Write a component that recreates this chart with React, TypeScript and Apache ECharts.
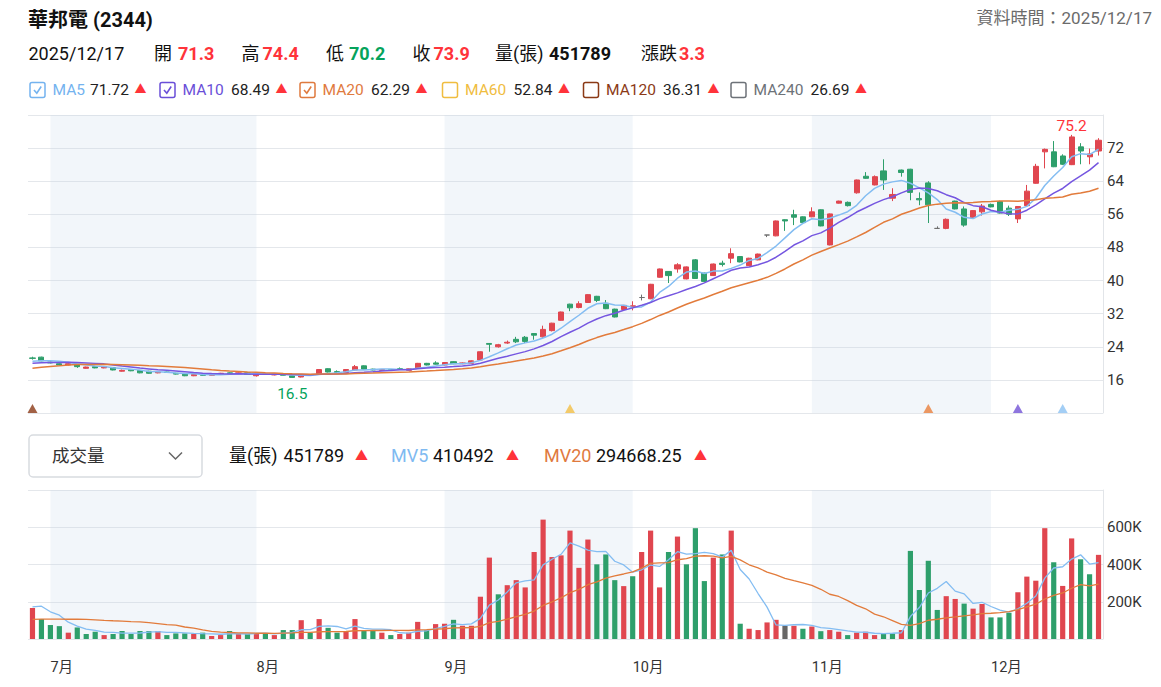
import React, { useEffect, useRef } from 'react';
import * as echarts from 'echarts';

// ---------- data ----------
const TRADE_DAYS: [number, number[]][] = [
  [6, [27, 30]],
  [7, [1, 2, 3, 4, 7, 8, 9, 10, 11, 14, 15, 16, 17, 18, 21, 22, 23, 24, 25, 28, 29, 30, 31]],
  [8, [1, 4, 5, 6, 7, 8, 11, 12, 13, 14, 15, 18, 19, 20, 21, 22, 25, 26, 27, 28, 29]],
  [9, [1, 2, 3, 4, 5, 8, 9, 10, 11, 12, 15, 16, 17, 18, 19, 22, 23, 24, 25, 26, 30]],
  [10, [1, 2, 3, 7, 8, 9, 13, 14, 15, 16, 17, 20, 21, 22, 23, 27, 28, 29, 30, 31]],
  [11, [3, 4, 5, 6, 7, 10, 11, 12, 13, 14, 17, 18, 19, 20, 21, 24, 25, 26, 27, 28]],
  [12, [1, 2, 3, 4, 5, 8, 9, 10, 11, 12, 15, 16, 17]],
];
const DATES: string[] = [];
TRADE_DAYS.forEach(([m, ds]) => ds.forEach((d) => DATES.push(`2025/${String(m).padStart(2, '0')}/${String(d).padStart(2, '0')}`)));

const OPEN = [
  21.3, 21.5, 20.3, 19.9, 19.6, 19.6, 18.8, 19.2, 18.9, 19.0,
  18.1, 18.5, 18.3, 18.1, 17.7, 17.9, 17.6, 17.4, 17.0, 17.3,
  17.1, 17.3, 17.7, 17.5, 17.7, 17.0, 17.4, 17.2, 17.4, 17.0,
  16.7, 17.3, 17.5, 18.7, 18.0, 17.8, 18.4, 19.4, 18.6, 18.3,
  18.5, 18.7, 18.3, 18.8, 20.0, 20.1, 19.6, 20.4, 19.9, 20.0,
  20.8, 24.8, 24.0, 24.9, 25.8, 26.3, 27.2, 26.4, 27.9, 30.4,
  34.3, 33.5, 34.7, 36.2, 34.5, 33.1, 33.0, 33.7, 35.9, 35.6,
  40.8, 42.2, 42.8, 40.4, 45.0, 41.8, 41.2, 44.2, 45.4, 45.8,
  43.6, 45.0, 51.0, 50.8, 54.7, 55.9, 55.4, 55.4, 57.1, 48.6,
  58.7, 58.9, 61.2, 65.2, 63.1, 66.5, 59.9, 66.7, 66.9, 59.8,
  63.6, 52.6, 52.6, 59.2, 57.3, 55.2, 56.6, 58.4, 59.1, 57.5,
  54.9, 58.1, 63.5, 71.1, 71.1, 70.1, 68.0, 72.3, 69.9, 71.3,
];
const CLOSE = [
  21.2, 20.6, 20.1, 19.6, 19.9, 19.2, 19.1, 18.9, 19.2, 18.4,
  18.3, 18.2, 17.7, 17.6, 17.9, 17.8, 17.4, 17.0, 17.3, 17.1,
  17.3, 17.6, 17.5, 17.7, 17.3, 17.4, 17.3, 17.4, 17.1, 16.6,
  17.2, 17.1, 18.5, 17.9, 17.8, 18.5, 19.2, 18.6, 18.4, 18.5,
  18.4, 18.6, 18.7, 20.0, 19.6, 19.8, 20.2, 19.9, 20.1, 20.6,
  22.8, 24.6, 24.5, 25.1, 25.2, 25.3, 26.8, 28.2, 29.7, 32.4,
  33.4, 34.4, 36.6, 35.2, 33.2, 31.2, 34.0, 33.9, 35.9, 39.1,
  42.8, 41.2, 43.8, 43.3, 40.5, 39.8, 44.0, 43.9, 46.5, 44.5,
  45.4, 46.4, 51.0, 54.4, 54.4, 55.3, 54.0, 56.6, 53.2, 56.1,
  59.2, 58.1, 64.3, 64.7, 65.1, 64.3, 60.8, 66.1, 61.3, 59.5,
  58.3, 52.6, 54.8, 57.3, 53.4, 56.9, 58.0, 57.8, 56.3, 56.0,
  57.9, 61.6, 67.6, 71.7, 67.5, 68.1, 74.7, 71.3, 70.6, 73.9,
];
const LOW = [
  20.9, 20.5, 20.0, 19.5, 19.5, 18.9, 18.7, 18.8, 18.8, 18.3,
  18.0, 18.1, 17.6, 17.5, 17.6, 17.7, 17.3, 16.9, 16.9, 17.0,
  17.0, 17.2, 17.4, 17.4, 17.2, 16.8, 17.2, 17.1, 17.0, 16.5,
  16.6, 17.0, 17.4, 17.8, 17.6, 17.7, 18.3, 18.5, 18.3, 18.2,
  18.3, 18.4, 18.2, 18.7, 19.5, 19.7, 19.5, 19.8, 19.8, 19.9,
  20.7, 22.8, 23.8, 24.7, 24.9, 24.9, 25.7, 26.2, 27.7, 30.3,
  32.6, 33.3, 34.6, 34.8, 33.1, 31.1, 32.9, 32.8, 35.2, 35.5,
  40.7, 39.4, 41.9, 40.3, 40.4, 39.7, 41.1, 43.4, 44.2, 44.4,
  43.5, 44.9, 50.5, 50.7, 52.0, 53.4, 53.9, 55.3, 53.1, 48.5,
  58.6, 57.9, 61.0, 64.6, 63.0, 61.9, 59.2, 65.1, 59.4, 58.2,
  53.9, 52.5, 52.4, 57.2, 53.0, 55.1, 55.7, 57.7, 56.2, 55.6,
  53.9, 58.0, 63.4, 67.1, 67.4, 67.9, 67.9, 68.1, 68.1, 70.2,
];
const HIGH = [
  21.6, 21.6, 20.4, 20.0, 20.0, 19.7, 19.2, 19.3, 19.3, 19.1,
  18.5, 18.6, 18.4, 18.2, 18.0, 18.0, 17.7, 17.5, 17.4, 17.4,
  17.4, 17.7, 17.8, 17.8, 17.8, 17.5, 17.5, 17.5, 17.5, 17.1,
  17.3, 17.4, 18.6, 18.8, 18.3, 18.6, 19.6, 19.5, 18.7, 18.6,
  18.6, 19.0, 18.8, 20.1, 20.1, 20.5, 20.3, 20.5, 20.2, 20.7,
  22.9, 24.9, 24.7, 25.5, 26.4, 26.6, 27.3, 29.1, 29.8, 32.5,
  34.4, 35.0, 36.7, 36.3, 35.3, 33.2, 34.1, 35.0, 36.6, 39.2,
  42.9, 42.3, 44.2, 43.4, 45.2, 41.9, 44.1, 44.8, 47.8, 45.9,
  45.5, 46.5, 51.0, 54.5, 54.8, 57.1, 55.5, 57.7, 57.2, 56.2,
  59.3, 59.1, 64.4, 66.2, 65.4, 69.3, 62.3, 66.8, 67.0, 61.3,
  64.0, 53.1, 55.0, 59.3, 57.9, 57.0, 58.5, 58.6, 59.3, 58.1,
  58.0, 63.1, 68.2, 71.9, 73.7, 70.5, 75.2, 73.2, 71.9, 74.4,
];
// 成交量 (thousands of 張)
const VOLUME_K = [
  167, 107, 75, 69, 34, 62, 27, 39, 21, 27,
  43, 27, 43, 43, 43, 21, 30, 30, 27, 34,
  16, 21, 43, 27, 27, 30, 30, 21, 48, 48,
  101, 34, 107, 60, 34, 39, 107, 43, 43, 34,
  21, 27, 34, 92, 48, 80, 82, 103, 71, 71,
  227, 437, 240, 289, 316, 277, 467, 641, 440, 449,
  582, 382, 534, 401, 454, 316, 284, 337, 467, 582,
  277, 467, 550, 401, 595, 311, 437, 454, 582, 82,
  55, 48, 89, 103, 71, 71, 55, 67, 42, 48,
  39, 21, 34, 39, 21, 30, 30, 48, 473, 263,
  420, 156, 230, 215, 190, 163, 188, 116, 116, 141,
  251, 335, 313, 595, 412, 285, 540, 428, 347.7, 451.789,
];
// closes / volumes of the sessions just before the window (for the averages)
const PRIOR_CLOSE = [15.9, 16.1, 16.3, 16.4, 16.6, 18.5, 18.8, 19.0, 19.1, 19.3, 19.3, 19.4, 19.6, 19.5, 19.7, 19.9, 20.1, 20.4, 20.9];
const PRIOR_VOLUME_K = [70, 70, 71, 54, 55, 54, 76, 75, 76, 78, 77, 78, 135, 136, 135, 87, 225, 159, 222];

// signal markers at bottom of the price panel
const MARKER_IDX = [0, 60, 100, 110, 115];
const MARKER_COLORS = ['#8b3a16', '#f2bf45', '#e8803c', '#7252d6', '#8cc2f2'];

const PRICE_TICKS = { min: 8, max: 80, interval: 8 };
const VOL_TICKS = { min: 0, max: 800000, interval: 200000 };

const MA_LEGEND = [
  { name: 'MA5', value: '71.72', color: '#74b3ef', checked: true },
  { name: 'MA10', value: '68.49', color: '#6a4fd8', checked: true },
  { name: 'MA20', value: '62.29', color: '#df7a3e', checked: true },
  { name: 'MA60', value: '52.84', color: '#f0bd3f', checked: false },
  { name: 'MA120', value: '36.31', color: '#8b3a16', checked: false },
  { name: 'MA240', value: '26.69', color: '#6d7278', checked: false },
];

// ---------- styles ----------
const RED = '#e0464f';
const GREEN = '#2e9f6b';
const TXT_RED = '#ff333a';
const TXT_GREEN = '#06a35c';
const FONT = "Roboto, 'Noto Sans CJK TC', 'Noto Sans', sans-serif";
const SHADE = 'rgba(196,212,234,0.22)';
const C_MA5 = '#84bdf2';
const C_MA10 = '#7556e0';
const C_MA20 = '#e27b3b';

function movingAvg(prior: number[], values: number[], n: number) {
  const all = prior.concat(values);
  const off = prior.length;
  return values.map((_, i) => {
    const end = off + i;
    const start = Math.max(0, end - n + 1);
    let s = 0;
    for (let k = start; k <= end; k++) s += all[k];
    return +(s / (end - start + 1)).toFixed(3);
  });
}

function txt(x: number, y: number, text: string, fontSize: number, fill: string, opts: any = {}) {
  const align = opts.align || 'left';
  return {
    type: 'text',
    x,
    y,
    silent: true,
    style: {
      text,
      fill,
      fontSize,
      fontFamily: FONT,
      fontWeight: opts.bold ? 'bold' : 'normal',
      align,
      textAlign: align,
      verticalAlign: 'middle',
      textVerticalAlign: 'middle',
    },
  };
}

export default function App() {
  const ref = useRef<HTMLDivElement>(null);

  useEffect(() => {
    if (!ref.current) return;
    const chart = echarts.init(ref.current, undefined, { renderer: 'svg' });

    const monthStart: Record<number, number> = {};
    const startSet = new Set<number>();
    DATES.forEach((d, i) => {
      const m = parseInt(d.slice(5, 7), 10);
      if (i > 0 && parseInt(DATES[i - 1].slice(5, 7), 10) !== m) {
        monthStart[m] = i;
        startSet.add(i);
      }
    });
    const makeShaded = () =>
      [7, 9, 11].map((m) => [
        { xAxis: DATES[monthStart[m]] },
        { xAxis: DATES[monthStart[m + 1]] },
      ]);

    const kData = OPEN.map((o, i) => [o, CLOSE[i], LOW[i], HIGH[i]]);
    const ma5 = movingAvg(PRIOR_CLOSE, CLOSE, 5);
    const ma10 = movingAvg(PRIOR_CLOSE, CLOSE, 10);
    const ma20 = movingAvg(PRIOR_CLOSE, CLOSE, 20);
    const vol = VOLUME_K.map((v) => Math.round(v * 1000));
    const priorVol = PRIOR_VOLUME_K.map((v) => v * 1000);
    const mv5 = movingAvg(priorVol, vol, 5);
    const mv20 = movingAvg(priorVol, vol, 20);
    const volData = vol.map((v, i) => {
      const prev = i === 0 ? PRIOR_CLOSE[PRIOR_CLOSE.length - 1] : CLOSE[i - 1];
      const c = CLOSE[i] > prev ? RED : CLOSE[i] < prev ? GREEN : '#666';
      return { value: v, itemStyle: { color: c } };
    });

    let maxI = 0;
    let minI = 0;
    HIGH.forEach((h, i) => { if (h > HIGH[maxI]) maxI = i; });
    LOW.forEach((l, i) => { if (l < LOW[minI]) minI = i; });

    const graphics: any[] = [];
    // header
    graphics.push(txt(28, 20, '華邦電 (2344)', 20, '#111', { bold: true }));
    graphics.push(txt(1152, 18, '資料時間：2025/12/17', 17, '#6b6b6b', { align: 'right' }));
    const row2: [number, string, string, boolean][] = [
      [28.5, '2025/12/17', '#111', false],
      [154, '開', '#111', false], [178, '71.3', TXT_RED, true],
      [241.5, '高', '#111', false], [262.5, '74.4', TXT_RED, true],
      [326, '低', '#111', false], [349, '70.2', TXT_GREEN, true],
      [412.5, '收', '#111', false], [433.5, '73.9', TXT_RED, true],
      [495, '量(張)', '#111', false], [549, '451789', '#111', true],
      [641, '漲跌', '#111', false], [679, '3.3', TXT_RED, true],
    ];
    row2.forEach(([x, t, c, b]) => graphics.push(txt(x, 53, t, 18, c, { bold: b })));

    // MA legend
    const legX = [30, 160, 300, 442.5, 583.5, 731];
    MA_LEGEND.forEach((it, k) => {
      const x0 = legX[k];
      graphics.push({
        type: 'rect', silent: true,
        shape: { x: x0, y: 82.5, width: 15, height: 15, r: 2 },
        style: { fill: '#fff', stroke: it.color, lineWidth: 1.5 },
      });
      if (it.checked) {
        graphics.push({
          type: 'polyline', silent: true,
          shape: { points: [[x0 + 4, 90], [x0 + 6.8, 93.2], [x0 + 11.2, 86.5]] },
          style: { stroke: it.color, fill: null, lineWidth: 1.6 },
        });
      }
      const lx = x0 + 22.5;
      const labelW = it.name.length <= 3 ? 37.5 : it.name.length === 4 ? 48.5 : 57;
      graphics.push(txt(lx, 90, it.name, 15.5, it.color));
      graphics.push(txt(lx + labelW, 90, it.value, 15.5, '#222'));
      graphics.push(txt(lx + labelW + 44.5, 90, '▲', 12, TXT_RED));
    });

    // volume header
    graphics.push({
      type: 'rect', silent: true,
      shape: { x: 29, y: 435, width: 173, height: 42, r: 4 },
      style: { fill: '#fff', stroke: '#d8dbe0', lineWidth: 1.5 },
    });
    graphics.push(txt(52, 456, '成交量', 17.5, '#333'));
    graphics.push({
      type: 'polyline', silent: true,
      shape: { points: [[169, 452.5], [175.5, 459], [182, 452.5]] },
      style: { stroke: '#666', fill: null, lineWidth: 1.5 },
    });
    const vh: [number, string, string][] = [
      [229, '量(張)', '#111'], [283.5, '451789', '#111'], [355, '▲', TXT_RED],
      [391, 'MV5', '#7fbaf1'], [433, '410492', '#111'], [506, '▲', TXT_RED],
      [544, 'MV20', '#df7a3e'], [596, '294668.25', '#111'], [694, '▲', TXT_RED],
    ];
    vh.forEach(([x, t, c]) => graphics.push(txt(x, 455, t, t === '▲' ? 13 : 18, c)));

    const axisLabelStyle = { color: '#333', fontSize: 15, fontFamily: FONT };

    chart.setOption({
      animation: false,
      textStyle: { fontFamily: FONT },
      grid: [
        { left: 28, top: 115, width: 1075, height: 298 },
        { left: 28, top: 490, width: 1075, height: 149 },
      ],
      xAxis: [
        {
          type: 'category', gridIndex: 0, data: DATES, boundaryGap: true,
          axisLine: { show: false }, axisTick: { show: false }, axisLabel: { show: false }, splitLine: { show: false },
        },
        {
          type: 'category', gridIndex: 1, data: DATES, boundaryGap: true,
          axisLine: { show: false }, axisTick: { show: false }, splitLine: { show: false },
          axisLabel: {
            show: true,
            interval: (i: number) => startSet.has(i),
            formatter: (v: string) => `${parseInt(v.slice(5, 7), 10)}月`,
            align: 'left',
            margin: 21,
            ...axisLabelStyle,
            fontSize: 14.5,
          },
        },
      ],
      yAxis: [
        {
          type: 'value', gridIndex: 0, position: 'right', ...PRICE_TICKS,
          axisLine: { show: true, lineStyle: { color: '#e2e5e9' } },
          axisTick: { show: false },
          axisLabel: { showMinLabel: false, showMaxLabel: false, margin: 4, ...axisLabelStyle },
          splitLine: { lineStyle: { color: '#e4e7eb', width: 1 } },
        },
        {
          type: 'value', gridIndex: 1, position: 'right', ...VOL_TICKS,
          axisLine: { show: true, lineStyle: { color: '#e2e5e9' } },
          axisTick: { show: false },
          axisLabel: {
            showMinLabel: false, showMaxLabel: false, margin: 4, ...axisLabelStyle,
            formatter: (v: number) => `${v / 1000}K`,
          },
          splitLine: { lineStyle: { color: '#e4e7eb', width: 1 } },
        },
      ],
      series: [
        {
          name: 'K', type: 'candlestick', xAxisIndex: 0, yAxisIndex: 0, data: kData,
          barWidth: '62%',
          itemStyle: {
            color: RED, color0: GREEN, borderColor: RED, borderColor0: GREEN,
            borderColorDoji: '#6f6f6f', borderWidth: 1,
          },
          markArea: { silent: true, itemStyle: { color: SHADE }, data: makeShaded() },
          markPoint: {
            silent: true,
            symbol: 'circle', symbolSize: 0.1,
            itemStyle: { color: 'rgba(0,0,0,0)' },
            data: [
              {
                coord: [DATES[maxI], HIGH[maxI]], value: HIGH[maxI],
                label: { show: true, position: 'top', distance: 1, color: TXT_RED, fontSize: 15.5, fontFamily: FONT, formatter: (p: any) => String(p.value) },
              },
              {
                coord: [DATES[minI], LOW[minI]], value: LOW[minI],
                label: { show: true, position: 'bottom', distance: 8, color: TXT_GREEN, fontSize: 15.5, fontFamily: FONT, formatter: (p: any) => String(p.value) },
              },
            ],
          },
        },
        { name: 'MA5', type: 'line', xAxisIndex: 0, yAxisIndex: 0, data: ma5, symbol: 'none', lineStyle: { color: C_MA5, width: 1.5 }, silent: true },
        { name: 'MA10', type: 'line', xAxisIndex: 0, yAxisIndex: 0, data: ma10, symbol: 'none', lineStyle: { color: C_MA10, width: 1.5 }, silent: true },
        { name: 'MA20', type: 'line', xAxisIndex: 0, yAxisIndex: 0, data: ma20, symbol: 'none', lineStyle: { color: C_MA20, width: 1.5 }, silent: true },
        {
          name: 'signals', type: 'scatter', xAxisIndex: 0, yAxisIndex: 0,
          symbol: 'triangle', symbolSize: [10, 9], silent: true,
          data: MARKER_IDX.map((idx, k) => ({ value: [DATES[idx], 9.1], itemStyle: { color: MARKER_COLORS[k] } })),
        },
        {
          name: 'VOL', type: 'bar', xAxisIndex: 1, yAxisIndex: 1, data: volData, barWidth: '58%',
          silent: true,
        },
        {
          name: 'shadeVol', type: 'line', xAxisIndex: 1, yAxisIndex: 1, data: [], silent: true, z: 1,
          markArea: { silent: true, itemStyle: { color: SHADE }, data: makeShaded() },
        },
        { name: 'MV5', type: 'line', xAxisIndex: 1, yAxisIndex: 1, data: mv5, symbol: 'none', lineStyle: { color: C_MA5, width: 1.3 }, silent: true },
        { name: 'MV20', type: 'line', xAxisIndex: 1, yAxisIndex: 1, data: mv20, symbol: 'none', lineStyle: { color: C_MA20, width: 1.3 }, silent: true },
      ],
      graphic: graphics,
    });

    return () => chart.dispose();
  }, []);

  return (
    <div
      ref={ref}
      style={{ position: 'absolute', left: 0, top: 0, width: 1161, height: 687, background: '#fff' }}
    />
  );
}
